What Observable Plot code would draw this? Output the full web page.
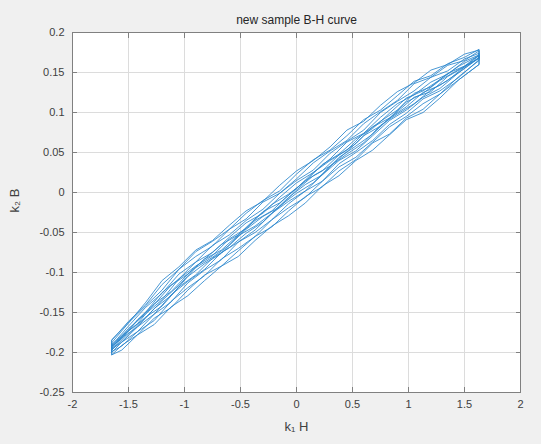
<!DOCTYPE html>
<html>
<head>
<meta charset="utf-8">
<script src="https://cdn.jsdelivr.net/npm/d3@7"></script>
<script src="https://cdn.jsdelivr.net/npm/@observablehq/plot@0.6"></script>
<style>
  html, body { margin: 0; padding: 0; background: #f0f0f0; }
  #chart svg { display: block; background: #f0f0f0; }
</style>
</head>
<body>
<div id="chart"></div>
<script>
const titleText = "new sample B-H curve";
const xLabel = "k\u2081 H";
const yLabel = "k\u2082 B";
const xTicks = [-2, -1.5, -1, -0.5, 0, 0.5, 1, 1.5, 2];
const yTicks = [-0.25, -0.2, -0.15, -0.1, -0.05, 0, 0.05, 0.1, 0.15, 0.2];

// H samples along the descending and ascending branches
const hDown = [1.63, 1.5, 1.35, 1.2, 1.05, 0.9, 0.75, 0.6, 0.45, 0.3, 0.15, 0, -0.15, -0.3, -0.45, -0.6, -0.75, -0.9, -1.05, -1.2, -1.35, -1.5, -1.65];
const hUp   = [-1.65, -1.56, -1.42, -1.27, -1.12, -0.97, -0.82, -0.67, -0.52, -0.37, -0.22, -0.07, 0.08, 0.23, 0.38, 0.53, 0.68, 0.83, 0.98, 1.13, 1.28, 1.45, 1.63];

// B values (descending branch, ascending branch)
const loopADown = [0.168, 0.157, 0.140, 0.128, 0.111, 0.098, 0.084, 0.062, 0.048, 0.033, 0.012, -0.001, -0.017, -0.037, -0.051, -0.069, -0.082, -0.103, -0.118, -0.142, -0.156, -0.177, -0.197];
const loopAUp   = [-0.203, -0.197, -0.178, -0.165, -0.143, -0.129, -0.110, -0.092, -0.080, -0.060, -0.042, -0.029, -0.013, 0.008, 0.021, 0.040, 0.053, 0.072, 0.091, 0.100, 0.118, 0.141, 0.160];
const loopBDown = [0.171, 0.157, 0.145, 0.126, 0.119, 0.101, 0.083, 0.071, 0.051, 0.033, 0.021, 0.003, -0.018, -0.030, -0.046, -0.066, -0.081, -0.094, -0.116, -0.135, -0.157, -0.173, -0.193];
const loopBUp   = [-0.203, -0.191, -0.178, -0.157, -0.144, -0.122, -0.103, -0.092, -0.073, -0.055, -0.043, -0.023, -0.005, 0.007, 0.027, 0.041, 0.062, 0.073, 0.093, 0.104, 0.123, 0.141, 0.160];
const loopCDown = [0.172, 0.158, 0.149, 0.132, 0.124, 0.103, 0.089, 0.074, 0.053, 0.040, 0.025, 0.005, -0.013, -0.024, -0.045, -0.058, -0.079, -0.092, -0.108, -0.134, -0.152, -0.170, -0.193];
const loopCUp   = [-0.199, -0.192, -0.174, -0.160, -0.136, -0.119, -0.104, -0.083, -0.070, -0.055, -0.034, -0.019, -0.006, 0.014, 0.032, 0.044, 0.063, 0.082, 0.095, 0.111, 0.123, 0.145, 0.165];
const loopDDown = [0.172, 0.164, 0.148, 0.138, 0.122, 0.111, 0.094, 0.074, 0.063, 0.042, 0.025, 0.012, -0.006, -0.026, -0.038, -0.056, -0.075, -0.087, -0.108, -0.125, -0.150, -0.172, -0.190];
const loopDUp   = [-0.200, -0.187, -0.174, -0.152, -0.137, -0.113, -0.097, -0.084, -0.062, -0.050, -0.034, -0.014, 0.002, 0.014, 0.036, 0.050, 0.065, 0.085, 0.099, 0.117, 0.127, 0.144, 0.166];
const loopEDown = [0.174, 0.167, 0.152, 0.144, 0.127, 0.114, 0.100, 0.078, 0.064, 0.049, 0.028, 0.015, -0.001, -0.021, -0.035, -0.053, -0.066, -0.087, -0.102, -0.126, -0.144, -0.167, -0.191];
const loopEUp   = [-0.196, -0.187, -0.168, -0.152, -0.128, -0.111, -0.096, -0.075, -0.062, -0.047, -0.026, -0.011, 0.002, 0.022, 0.040, 0.052, 0.071, 0.090, 0.103, 0.119, 0.130, 0.150, 0.168];
const loopFDown = [0.177, 0.165, 0.159, 0.144, 0.136, 0.115, 0.101, 0.086, 0.065, 0.052, 0.037, 0.017, -0.001, -0.012, -0.033, -0.046, -0.067, -0.080, -0.096, -0.122, -0.142, -0.163, -0.188];
const loopFUp   = [-0.197, -0.182, -0.168, -0.145, -0.129, -0.105, -0.089, -0.076, -0.054, -0.042, -0.026, -0.006, 0.010, 0.022, 0.044, 0.058, 0.073, 0.093, 0.107, 0.125, 0.134, 0.150, 0.169];
const loopGDown = [0.179, 0.169, 0.161, 0.146, 0.139, 0.121, 0.103, 0.091, 0.071, 0.053, 0.041, 0.023, 0.002, -0.010, -0.026, -0.046, -0.061, -0.074, -0.096, -0.115, -0.141, -0.161, -0.185];
const loopGUp   = [-0.195, -0.180, -0.164, -0.139, -0.124, -0.102, -0.083, -0.072, -0.053, -0.035, -0.023, -0.003, 0.015, 0.027, 0.047, 0.061, 0.082, 0.093, 0.113, 0.124, 0.140, 0.154, 0.168];
const loopHDown = [0.178, 0.173, 0.160, 0.153, 0.137, 0.126, 0.109, 0.089, 0.078, 0.057, 0.040, 0.027, 0.009, -0.011, -0.023, -0.041, -0.060, -0.072, -0.093, -0.110, -0.138, -0.163, -0.184];
const loopHUp   = [-0.192, -0.183, -0.159, -0.140, -0.116, -0.102, -0.083, -0.065, -0.053, -0.033, -0.015, -0.002, 0.014, 0.035, 0.048, 0.067, 0.080, 0.099, 0.118, 0.127, 0.141, 0.158, 0.171];

const loops = [
  [loopADown, loopAUp], [loopEDown, loopEUp], [loopBDown, loopBUp], [loopFDown, loopFUp],
  [loopCDown, loopCUp], [loopGDown, loopGUp], [loopDDown, loopDUp], [loopHDown, loopHUp]
];
const data = loops.flatMap(([down, up]) => [
  ...hDown.map((h, i) => ({H: h, B: down[i]})),
  ...hUp.map((h, i) => ({H: h, B: up[i]}))
]);

const fmt = d => String(d);
const axisColor = "#808080";

const chart = Plot.plot({
  width: 541,
  height: 444,
  marginLeft: 72,
  marginRight: 21,
  marginTop: 32,
  marginBottom: 52,
  style: {background: "#f0f0f0", fontFamily: "'Liberation Sans', Arial, sans-serif", fontSize: "11px", color: "#404040"},
  x: {domain: [-2, 2]},
  y: {domain: [-0.25, 0.2]},
  marks: [
    Plot.frame({fill: "white", stroke: null}),
    Plot.gridX(xTicks, {stroke: "#dcdcdc", strokeOpacity: 1}),
    Plot.gridY(yTicks, {stroke: "#dcdcdc", strokeOpacity: 1}),
    Plot.line(data, {x: "H", y: "B", stroke: "#2a86cc", strokeWidth: 1, strokeOpacity: 0.85}),
    Plot.frame({stroke: axisColor}),
    Plot.axisX(xTicks, {anchor: "bottom", tickSize: -5, tickPadding: 13, tickFormat: fmt, stroke: axisColor, label: null, fill: "#404040"}),
    Plot.axisX(xTicks, {anchor: "top", tickSize: -5, tickFormat: () => "", stroke: axisColor, label: null}),
    Plot.axisY(yTicks, {anchor: "left", tickSize: -5, tickPadding: 13, tickFormat: fmt, stroke: axisColor, label: null, fill: "#404040"}),
    Plot.axisY(yTicks, {anchor: "right", tickSize: -5, tickFormat: () => "", stroke: axisColor, label: null}),
    Plot.text([titleText], {frameAnchor: "top", dy: -17, fontSize: 12, fill: "#262626"}),
    Plot.text([xLabel], {frameAnchor: "bottom", dy: 38, fontSize: 13, fill: "#404040"}),
    Plot.text([yLabel], {frameAnchor: "left", dx: -58, rotate: -90, fontSize: 13, fill: "#404040"})
  ]
});
document.getElementById("chart").appendChild(chart);
</script>
</body>
</html>
